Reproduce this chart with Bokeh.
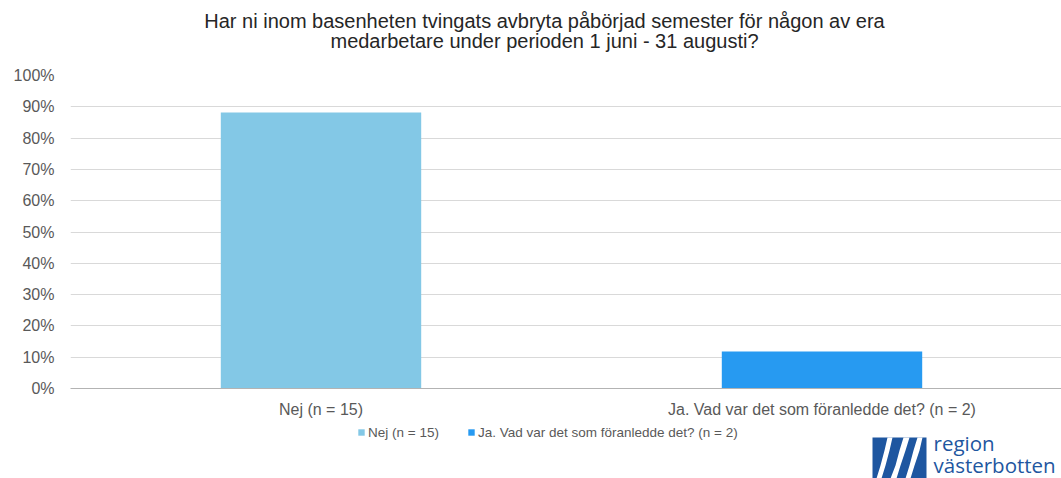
from bokeh.plotting import figure
from bokeh.layouts import column
from bokeh.core.properties import value
from bokeh.models import (Range1d, FixedTicker, NumeralTickFormatter, Legend, LegendItem,
                          ColumnDataSource)
from bokeh.embed import file_html
from bokeh.resources import INLINE

# ---- data ----
title_lines = ["Har ni inom basenheten tvingats avbryta påbörjad semester för någon av era",
               "medarbetare under perioden 1 juni - 31 augusti?"]
categories = ["Nej (n = 15)", "Ja. Vad var det som föranledde det? (n = 2)"]
shares = [0.882, 0.118]
colors = ["#83C8E6", "#279AF1"]
y_ticks = [0.0, 0.1, 0.2, 0.3, 0.4, 0.5, 0.6, 0.7, 0.8, 0.9, 1.0]
logo_words = ["region", "västerbotten"]

# ---- geometry ----
W = 1061
H0, H1, H2 = 58, 362, 58
LEFT = 70
CAT_PX = 501.0
frame_w = W - LEFT
FONT = "Liberation Sans"

# ---- title strip ----
p0 = figure(width=W, height=H0, output_backend="svg", toolbar_location=None,
            x_range=Range1d(LEFT, W), y_range=Range1d(H0, 0),
            x_axis_location=None, y_axis_location=None,
            min_border_left=LEFT, min_border_right=0, min_border_top=0, min_border_bottom=0)
p0.outline_line_color = None
p0.grid.visible = False
p0.text(x=[544, 544], y=[20, 40], text=title_lines, text_font=value(FONT),
        text_font_size="20px", text_color="#262626", text_align="center",
        text_baseline="alphabetic")

# ---- main chart ----
x_pos = [i + 0.5 for i in range(len(categories))]
src = ColumnDataSource(dict(x=x_pos, top=shares, color=colors, cat=categories))

p = figure(width=W, height=H1, output_backend="svg", toolbar_location=None,
           x_range=Range1d(0, frame_w / CAT_PX), y_range=Range1d(0, 1),
           min_border_left=LEFT, min_border_right=0, min_border_top=17,
           min_border_bottom=32, title=None)
p.outline_line_color = None

r = p.vbar(x="x", top="top", width=0.4, fill_color="color", line_color=None, source=src)

p.yaxis.ticker = FixedTicker(ticks=y_ticks)
p.yaxis.formatter = NumeralTickFormatter(format="0%")
p.yaxis.axis_line_color = None
p.yaxis.major_tick_line_color = None
p.yaxis.minor_tick_line_color = None
p.yaxis.major_tick_out = 0
p.yaxis.major_tick_in = 0
p.yaxis.major_label_standoff = 16
p.yaxis.major_label_text_font = FONT
p.yaxis.major_label_text_font_size = "16px"
p.yaxis.major_label_text_color = "#595959"

p.xaxis.ticker = FixedTicker(ticks=x_pos)
p.xaxis.major_label_overrides = {xp: c for xp, c in zip(x_pos, categories)}
p.xaxis.axis_line_color = "#B3B3B3"
p.xaxis.major_tick_line_color = None
p.xaxis.minor_tick_line_color = None
p.xaxis.major_tick_out = 0
p.xaxis.major_tick_in = 0
p.xaxis.major_label_standoff = 12
p.xaxis.major_label_text_font = FONT
p.xaxis.major_label_text_font_size = "16px"
p.xaxis.major_label_text_color = "#595959"

p.xgrid.grid_line_color = None
p.ygrid.grid_line_color = "#D9D9D9"
p.ygrid.ticker = FixedTicker(ticks=y_ticks)

# ---- lower strip: legend + logo ----
p2 = figure(width=W, height=H2, output_backend="svg", toolbar_location=None,
            x_range=Range1d(LEFT, W), y_range=Range1d(H2, 0),
            x_axis_location=None, y_axis_location=None,
            min_border_left=LEFT, min_border_right=0, min_border_top=0, min_border_bottom=0)
p2.outline_line_color = None
p2.grid.visible = False
p2.extra_y_ranges = {"hidden": Range1d(10, 11)}
r2 = p2.vbar(x="x", top="top", width=0.4, fill_color="color", line_color=None,
             source=src, y_range_name="hidden")

items = [LegendItem(label=c, renderers=[r2], index=i) for i, c in enumerate(categories)]
legend = Legend(items=items, orientation="horizontal", location=(357 - LEFT, H2 - 20),
                label_text_font=FONT, label_text_font_size="13.5px",
                label_text_color="#595959", glyph_width=8, glyph_height=8,
                label_standoff=3, spacing=28, padding=0, margin=0, label_height=16,
                border_line_color=None, background_fill_alpha=0)
p2.add_layout(legend, "center")

# logo artwork (strip pixel coordinates; strip starts at page y 420)
blue = "#1E56A0"
Y0 = H0 + H1
p2.quad(left=[872], right=[926], top=[437 - Y0], bottom=[478 - Y0],
        fill_color=blue, line_color=None)
stripes_x = [[887, 892, 889, 885, 881, 876, 880, 884],
             [903, 909, 905, 900, 896, 890, 895, 899],
             [917, 922, 919, 914, 910, 905, 909, 913]]
stripes_y = [[437, 437, 450, 465, 478, 478, 465, 450]] * 3
p2.patches(xs=stripes_x, ys=[[v - Y0 for v in ys] for ys in stripes_y],
           fill_color="white", line_color=None)
p2.text(x=[933, 933], y=[442 - Y0, 464 - Y0], text=logo_words,
        text_font=value("Open Sans"), text_font_size="20.5px", text_color=blue,
        text_baseline="alphabetic", text_align="left")

layout = column(p0, p, p2, spacing=0)
open("out.html", "w").write(file_html(layout, INLINE))
